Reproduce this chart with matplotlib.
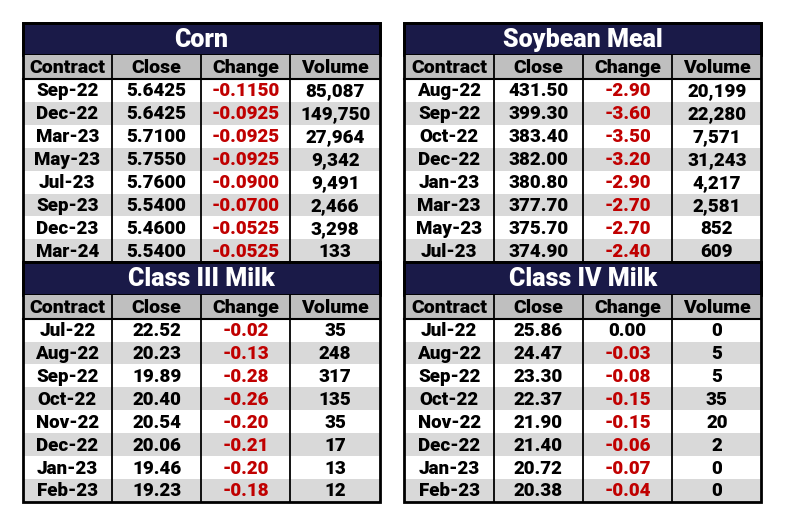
import matplotlib.pyplot as plt
from matplotlib.patches import Rectangle

# ---- data ----
headers = ["Contract", "Close", "Change", "Volume"]

corn_contract = ["Sep-22", "Dec-22", "Mar-23", "May-23", "Jul-23", "Sep-23", "Dec-23", "Mar-24"]
corn_close = ["5.6425", "5.6425", "5.7100", "5.7550", "5.7600", "5.5400", "5.4600", "5.5400"]
corn_change = ["-0.1150", "-0.0925", "-0.0925", "-0.0925", "-0.0900", "-0.0700", "-0.0525", "-0.0525"]
corn_volume = ["85,087", "149,750", "27,964", "9,342", "9,491", "2,466", "3,298", "133"]

meal_contract = ["Aug-22", "Sep-22", "Oct-22", "Dec-22", "Jan-23", "Mar-23", "May-23", "Jul-23"]
meal_close = ["431.50", "399.30", "383.40", "382.00", "380.80", "377.70", "375.70", "374.90"]
meal_change = ["-2.90", "-3.60", "-3.50", "-3.20", "-2.90", "-2.70", "-2.70", "-2.40"]
meal_volume = ["20,199", "22,280", "7,571", "31,243", "4,217", "2,581", "852", "609"]

c3_contract = ["Jul-22", "Aug-22", "Sep-22", "Oct-22", "Nov-22", "Dec-22", "Jan-23", "Feb-23"]
c3_close = ["22.52", "20.23", "19.89", "20.40", "20.54", "20.06", "19.46", "19.23"]
c3_change = ["-0.02", "-0.13", "-0.28", "-0.26", "-0.20", "-0.21", "-0.20", "-0.18"]
c3_volume = ["35", "248", "317", "135", "35", "17", "13", "12"]

c4_contract = ["Jul-22", "Aug-22", "Sep-22", "Oct-22", "Nov-22", "Dec-22", "Jan-23", "Feb-23"]
c4_close = ["25.86", "24.47", "23.30", "22.37", "21.90", "21.40", "20.72", "20.38"]
c4_change = ["0.00", "-0.03", "-0.08", "-0.15", "-0.15", "-0.06", "-0.07", "-0.04"]
c4_volume = ["0", "5", "5", "35", "20", "2", "0", "0"]

NAVY = "#1a1a48"
HEAD = "#bfbfbf"
ALT = "#d9d9d9"
RED = "#c00000"
FONT = dict(family=["Roboto", "DejaVu Sans"], weight="heavy")

fig = plt.figure(figsize=(7.89, 5.27), dpi=100)
ax = fig.add_axes([0, 0, 1, 1])
ax.set_xlim(0, 789)
ax.set_ylim(527, 0)
ax.axis("off")


def draw_table(x0, y0, title, cols, width=357, title_h=32.5, head_h=24, row_h=22.9):
    col_w = width / 4
    # title band
    ax.add_patch(Rectangle((x0, y0), width, title_h, facecolor=NAVY, edgecolor="black", lw=2))
    ax.text(x0 + width / 2, y0 + title_h / 2 + 1, title, color="white", fontsize=18,
            ha="center", va="center", **FONT)
    # header
    y = y0 + title_h
    ax.add_patch(Rectangle((x0, y), width, head_h, facecolor=HEAD, edgecolor="none"))
    for j, h in enumerate(headers):
        ax.text(x0 + col_w * (j + 0.5), y + head_h / 2 + 1, h, color="black", fontsize=14,
                ha="center", va="center", **FONT)
    ax.plot([x0, x0 + width], [y + head_h, y + head_h], color="black", lw=1.5)
    # data rows
    y = y + head_h
    n = len(cols[0])
    for i in range(n):
        ry = y + i * row_h
        ax.add_patch(Rectangle((x0, ry), width, row_h,
                               facecolor="white" if i % 2 == 0 else ALT, edgecolor="none"))
        for j, col in enumerate(cols):
            val = col[i]
            color = RED if (j == 2 and val.startswith("-")) else "black"
            ax.text(x0 + col_w * (j + 0.5), ry + row_h / 2 + 1, val, color=color, fontsize=13.5,
                    ha="center", va="center", **FONT)
    bottom = y + n * row_h
    # vertical lines
    for j in range(1, 4):
        ax.plot([x0 + col_w * j] * 2, [y0 + title_h, bottom], color="black", lw=1.3)
    # outer border
    ax.add_patch(Rectangle((x0, y0), width, bottom - y0, facecolor="none", edgecolor="black", lw=2))
    return bottom


b = draw_table(22.7, 22.5, "Corn", [corn_contract, corn_close, corn_change, corn_volume])
draw_table(22.7, b, "Class III Milk", [c3_contract, c3_close, c3_change, c3_volume])
b = draw_table(404.5, 22.5, "Soybean Meal", [meal_contract, meal_close, meal_change, meal_volume])
draw_table(404.5, b, "Class IV Milk", [c4_contract, c4_close, c4_change, c4_volume])

fig.savefig("out.png", dpi=100)
